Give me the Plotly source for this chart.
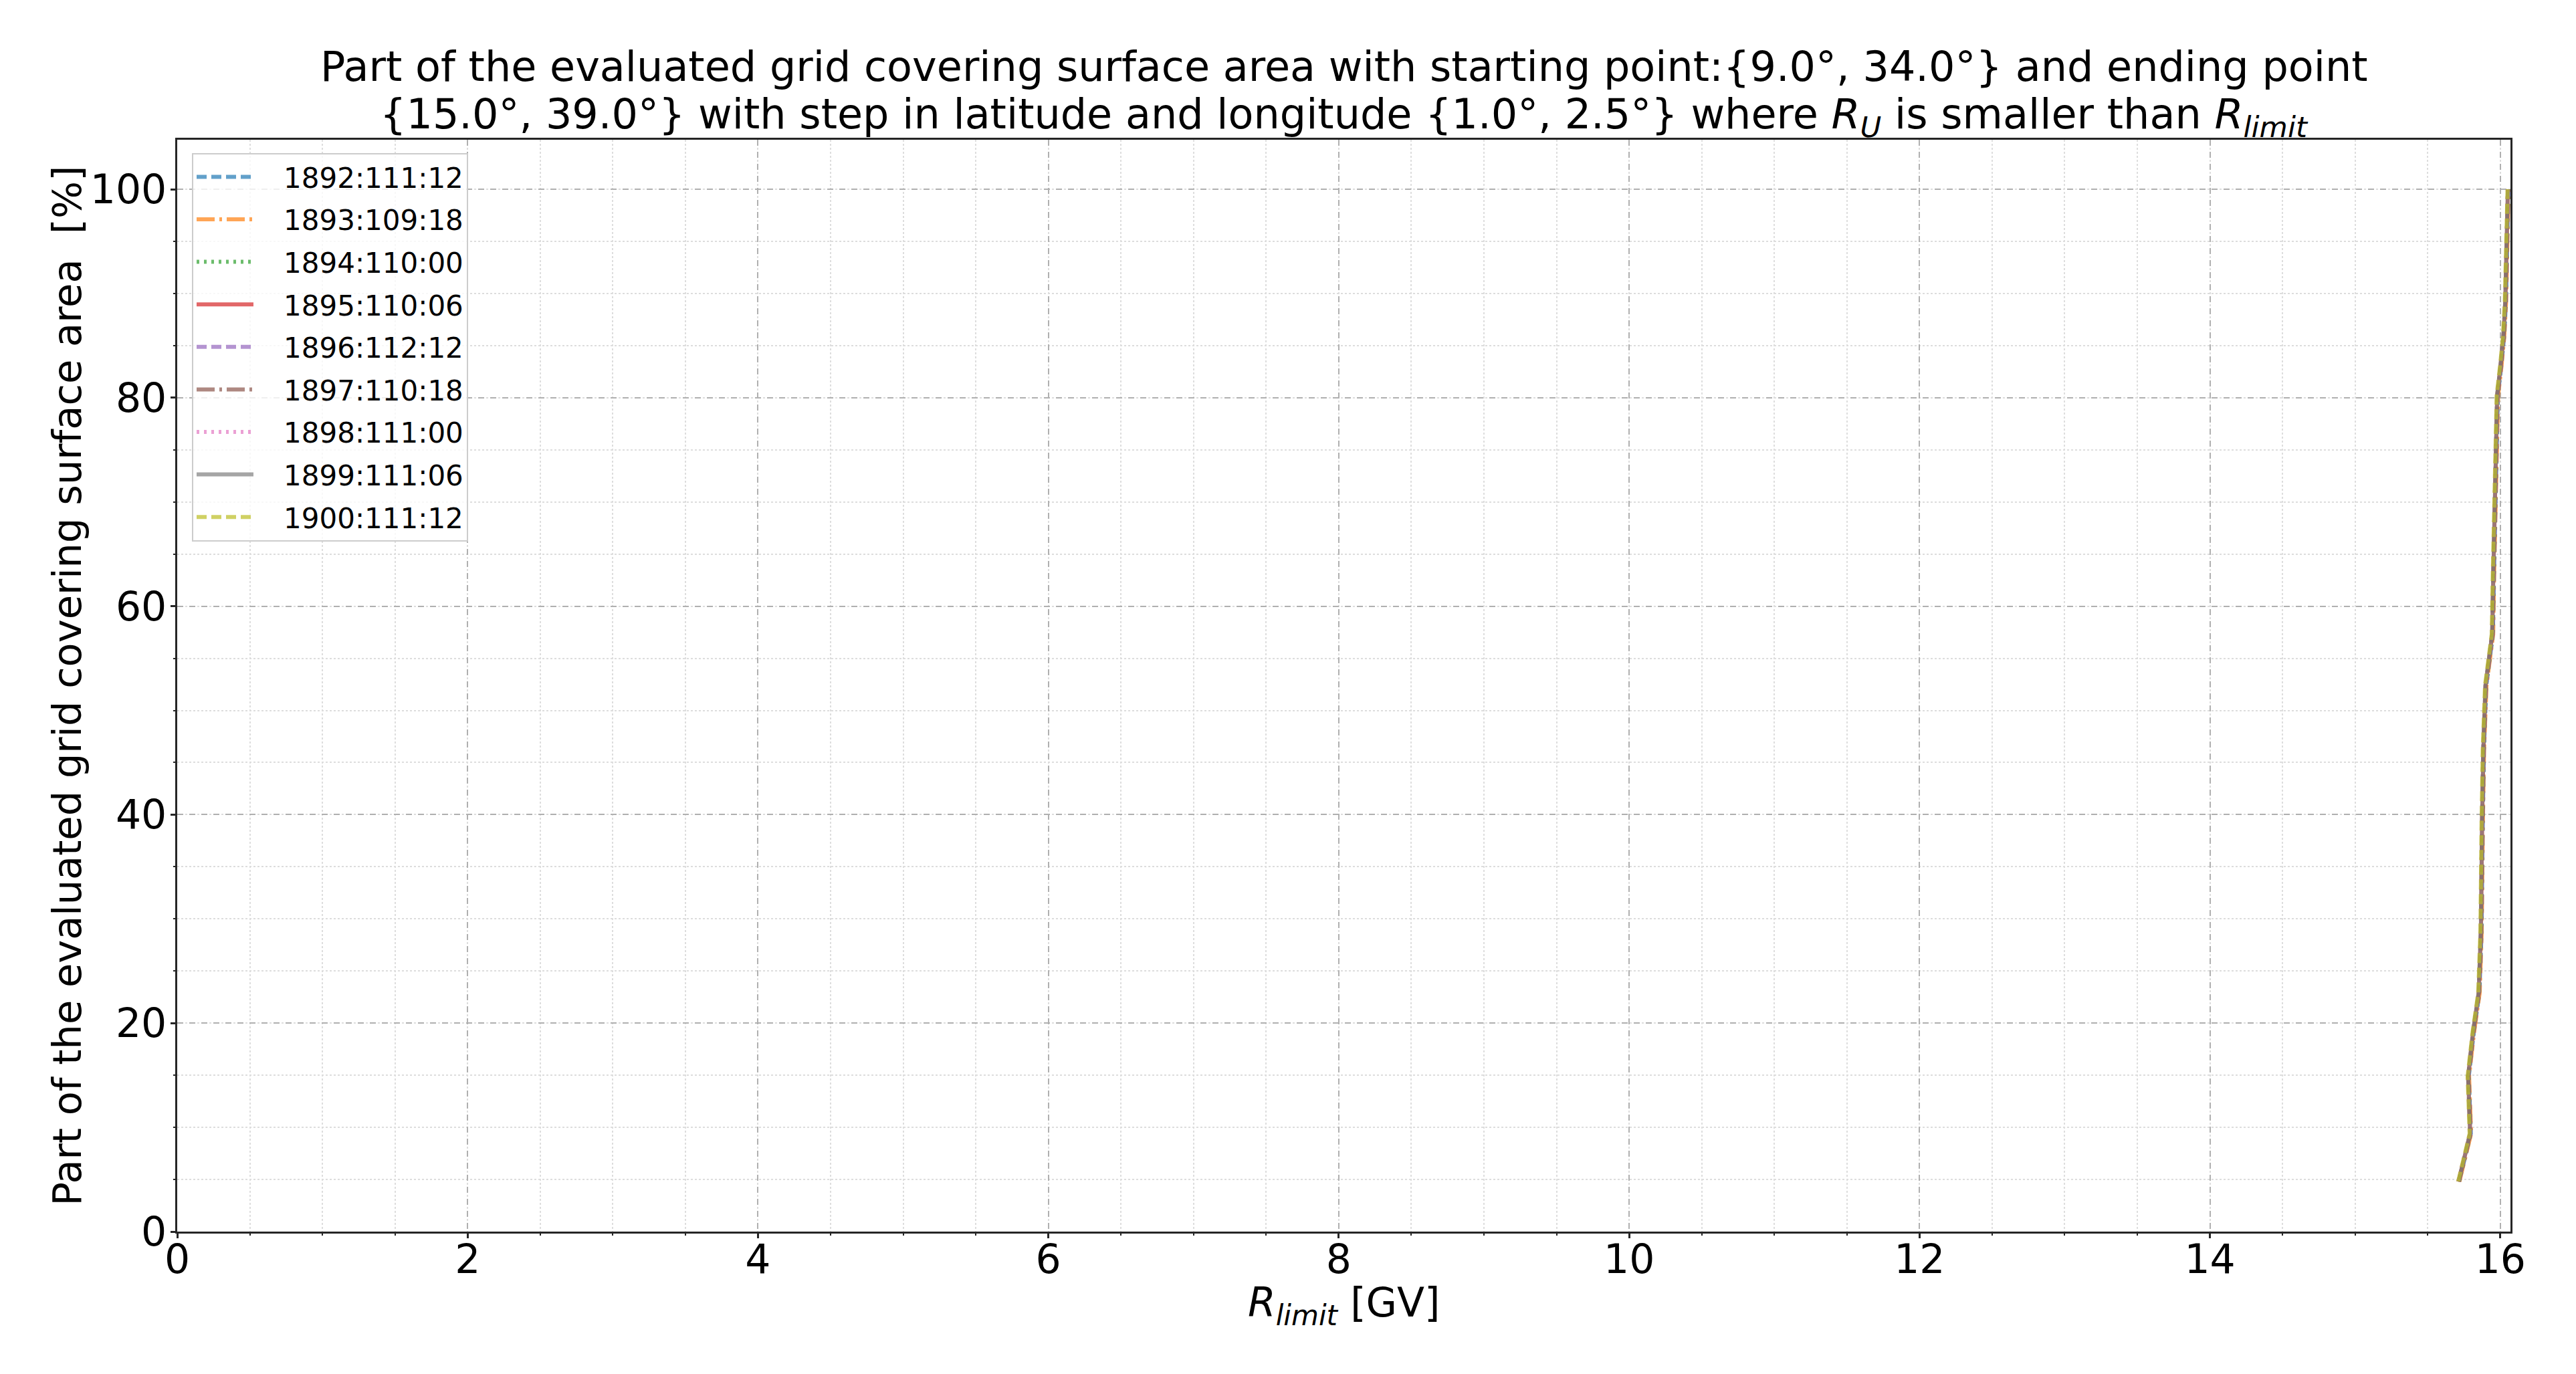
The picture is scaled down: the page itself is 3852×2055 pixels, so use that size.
import plotly.graph_objects as go

# Percentage levels (shared y values) and per-series rigidity values (x)
y_pct = [4.8, 7.1, 9.4, 14.9, 19.1, 22.9, 28.8, 39.2, 46.2, 52.4, 55.9, 57.3,
         63.5, 71.9, 80.2, 83.0, 85.8, 89.2, 94.8, 100.0]

labels = ["1892:111:12", "1893:109:18", "1894:110:00", "1895:110:06", "1896:112:12",
          "1897:110:18", "1898:111:00", "1899:111:06", "1900:111:12"]

s1892 = [15.716, 15.754, 15.797, 15.783, 15.817, 15.856, 15.871, 15.879, 15.887, 15.903,
         15.933, 15.949, 15.957, 15.969, 15.983, 16.006, 16.026, 16.039, 16.046, 16.056]
s1893 = [15.718, 15.756, 15.799, 15.785, 15.819, 15.858, 15.872, 15.880, 15.888, 15.905,
         15.935, 15.951, 15.958, 15.970, 15.985, 16.008, 16.027, 16.040, 16.047, 16.057]
s1894 = [15.715, 15.753, 15.795, 15.781, 15.815, 15.854, 15.869, 15.878, 15.886, 15.902,
         15.932, 15.948, 15.956, 15.968, 15.982, 16.004, 16.024, 16.037, 16.044, 16.055]
s1895 = [15.713, 15.751, 15.793, 15.779, 15.813, 15.852, 15.867, 15.875, 15.884, 15.899,
         15.929, 15.945, 15.953, 15.965, 15.979, 16.002, 16.022, 16.035, 16.042, 16.053]
s1896 = [15.714, 15.752, 15.794, 15.780, 15.814, 15.853, 15.868, 15.877, 15.885, 15.901,
         15.931, 15.947, 15.955, 15.967, 15.981, 16.004, 16.023, 16.036, 16.043, 16.054]
s1897 = [15.712, 15.750, 15.792, 15.778, 15.812, 15.851, 15.866, 15.874, 15.882, 15.898,
         15.928, 15.944, 15.952, 15.964, 15.978, 16.001, 16.021, 16.034, 16.041, 16.052]
s1898 = [15.711, 15.749, 15.791, 15.777, 15.811, 15.850, 15.865, 15.873, 15.881, 15.897,
         15.927, 15.943, 15.951, 15.963, 15.977, 16.000, 16.020, 16.033, 16.040, 16.051]
s1899 = [15.713, 15.750, 15.792, 15.779, 15.812, 15.851, 15.866, 15.874, 15.883, 15.898,
         15.928, 15.944, 15.952, 15.964, 15.978, 16.001, 16.021, 16.034, 16.041, 16.052]
s1900 = [15.710, 15.747, 15.789, 15.775, 15.809, 15.848, 15.863, 15.871, 15.879, 15.895,
         15.925, 15.941, 15.949, 15.961, 15.975, 15.998, 16.018, 16.031, 16.038, 16.050]

series_x = [s1892, s1893, s1894, s1895, s1896, s1897, s1898, s1899, s1900]

x_ticks = [0, 2, 4, 6, 8, 10, 12, 14, 16]
y_ticks = [0, 20, 40, 60, 80, 100]

title_line1 = "Part of the evaluated grid covering surface area with starting point:{9.0°, 34.0°} and ending point"
title_line2 = ("{15.0°, 39.0°} with step in latitude and longitude {1.0°, 2.5°} where "
               "<i>R</i><sub><i>U</i></sub> is smaller than <i>R</i><sub><i>limit</i></sub>")
x_title = "<i>R</i><sub><i>limit</i></sub> [GV]"
y_title = "Part of the evaluated grid covering surface area\u00a0 [%]"

colors = ["#1f77b4", "#ff7f0e", "#2ca02c", "#d62728", "#9467bd",
          "#8c564b", "#e377c2", "#7f7f7f", "#bcbd22"]
DASHED = "15px,7px"
DASHDOT = "27px,7px,4px,7px"
DOTTED = "4px,7px"
dashes = [DASHED, DASHDOT, DOTTED, "solid", DASHED, DASHDOT, DOTTED, "solid", DASHED]

FONT = "DejaVu Sans"
W, H = 3852, 2055
ML, MR, MT, MB = 265, 98, 209, 213
PW, PH = W - ML - MR, H - MT - MB


def px_x(px):
    return (px - ML) / PW


def px_y(py):
    return (H - MB - py) / PH


fig = go.Figure()
for i, (lab, xs, c, d) in enumerate(zip(labels, series_x, colors, dashes)):
    fig.add_trace(go.Scatter(x=xs, y=y_pct, mode="lines",
                             name="\u00a0\u00a0\u00a0" + lab, legendgroup=f"g{i}",
                             line=dict(color=c, width=6, dash=d), opacity=0.7))

axis_common = dict(
    showline=True, linecolor="#262626", linewidth=2.5, mirror=True,
    ticks="outside", ticklen=7, tickwidth=2.5, tickcolor="#262626",
    tickfont=dict(family=FONT, size=60, color="black"),
    showgrid=True, gridcolor="#b0b0b0", gridwidth=2, griddash="dash",
    zeroline=False,
)

fig.update_layout(
    width=W, height=H,
    margin=dict(l=ML, r=MR, t=MT, b=MB),
    paper_bgcolor="white", plot_bgcolor="white",
    font=dict(family=FONT, color="black"),
    xaxis=dict(range=[0, 16.07], tickvals=x_ticks, ticklabelstandoff=-20,
               minor=dict(dtick=0.5, ticks="outside", ticklen=3.5, tickwidth=2, tickcolor="#262626",
                          showgrid=True, gridcolor="#dddddd", gridwidth=2, griddash="dot"),
               **axis_common),
    yaxis=dict(range=[0, 104.75], tickvals=y_ticks, ticklabelstandoff=-6,
               minor=dict(dtick=5, ticks="outside", ticklen=3.5, tickwidth=2, tickcolor="#262626",
                          showgrid=True, gridcolor="#dddddd", gridwidth=2, griddash="dot"),
               **axis_common),
    legend=dict(x=0.0063, y=0.988, xanchor="left", yanchor="top",
                bgcolor="rgba(255,255,255,0.8)", bordercolor="#cccccc", borderwidth=2,
                font=dict(family=FONT, size=42, color="black"), itemwidth=85,
                tracegroupgap=6),
    showlegend=True,
)

ann_font = dict(family=FONT, size=62, color="black")
fig.add_annotation(text=title_line1, xref="paper", yref="paper", x=0.5, y=px_y(100),
                   xanchor="center", yanchor="middle", showarrow=False, font=ann_font)
fig.add_annotation(text=title_line2, xref="paper", yref="paper", x=0.5, y=px_y(175),
                   xanchor="center", yanchor="middle", showarrow=False, font=ann_font)
fig.add_annotation(text=x_title, xref="paper", yref="paper", x=0.5, y=px_y(1952),
                   xanchor="center", yanchor="middle", showarrow=False,
                   font=dict(family=FONT, size=60, color="black"))
fig.add_annotation(text=y_title, xref="paper", yref="paper", x=px_x(100), y=0.5,
                   xanchor="center", yanchor="middle", showarrow=False, textangle=-90,
                   font=dict(family=FONT, size=59, color="black"))

fig.write_html("out.html")
